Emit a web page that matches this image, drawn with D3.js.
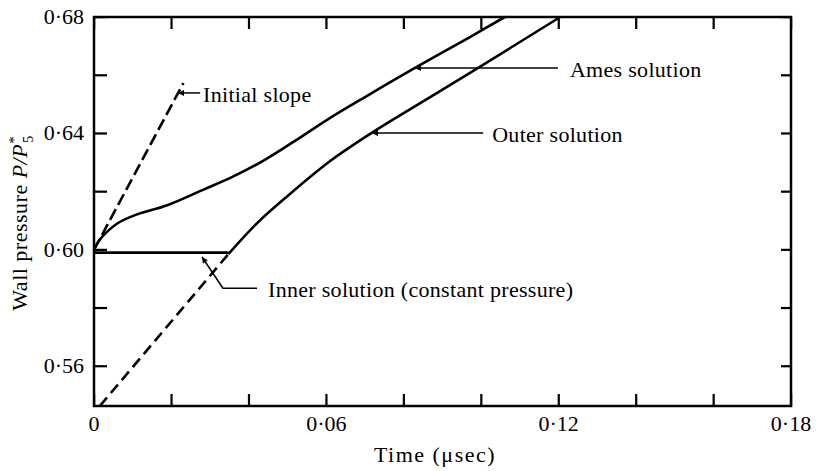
<!DOCTYPE html>
<html>
<head>
<meta charset="utf-8">
<script src="https://cdn.jsdelivr.net/npm/d3@7"></script>
<style>
  body { margin: 0; background: #fff; }
  text { font-family: "Liberation Serif", "DejaVu Serif", serif; fill: #000; }
</style>
</head>
<body>
<div id="chart"></div>
<script>
// Data: time in microseconds, pressure as P/P5*
var amesTime     = [0, 0.0012, 0.0030, 0.0062, 0.0106, 0.0191, 0.0280, 0.0360, 0.0440, 0.0520, 0.0600, 0.0700, 0.0829, 0.0971, 0.1061];
var amesPressure = [0.600, 0.6029, 0.6057, 0.6092, 0.6119, 0.6154, 0.6205, 0.6252, 0.6308, 0.6375, 0.6445, 0.6525, 0.6625, 0.6731, 0.680];

var outerTime     = [0.0347, 0.0420, 0.0500, 0.0610, 0.0721, 0.0850, 0.0971, 0.1204];
var outerPressure = [0.5985, 0.6090, 0.6185, 0.6305, 0.6405, 0.6510, 0.6608, 0.680];

var outerExtTime     = [0.0015, 0.0347];
var outerExtPressure = [0.5463, 0.5985];

var innerTime     = [0, 0.0347];
var innerPressure = [0.599, 0.599];

var slopeTime     = [0, 0.0231];
var slopePressure = [0.600, 0.6573];

var xTicks = [0, 0.02, 0.04, 0.06, 0.08, 0.10, 0.12, 0.14, 0.16, 0.18];
var xTickLabels = [0, 0.06, 0.12, 0.18];
var yTicks = [0.56, 0.58, 0.60, 0.62, 0.64, 0.66, 0.68];
var yTickLabels = [0.56, 0.60, 0.64, 0.68];

//Chart size
var svgWidth = 816;
var svgHeight = 471;
var margin = {top: 17, right: 25, bottom: 65, left: 94};
var width = svgWidth - margin.left - margin.right;
var height = svgHeight - margin.top - margin.bottom;

var svg = d3.select('#chart')
   .append('svg')
   .attr('width', svgWidth)
   .attr('height', svgHeight);

var chart = svg.append('g')
   .attr('transform', `translate(${margin.left}, ${margin.top})`);

var x = d3.scaleLinear().domain([0, 0.18]).range([0, width]);
var y = d3.scaleLinear().domain([0.5463, 0.68]).range([height, 0]);

var fmt = function(d) { return d3.format('.2f')(d).replace('.', '\u00b7'); };
var fmtX = function(d) { return d === 0 ? '0' : fmt(d); };

// frame
chart.append('rect')
    .attr('width', width).attr('height', height)
    .attr('fill', 'none').attr('stroke', '#000').attr('stroke-width', 2.5);

// inward ticks on all four sides
chart.selectAll('.tick-b').data(xTicks).enter().append('rect')
    .attr('x', d => x(d) - 1).attr('y', height - 12)
    .attr('width', 2.2).attr('height', 12).attr('fill', '#000');
chart.selectAll('.tick-t').data(xTicks).enter().append('rect')
    .attr('x', d => x(d) - 1).attr('y', 0)
    .attr('width', 2.2).attr('height', 12).attr('fill', '#000');
chart.selectAll('.tick-l').data(yTicks).enter().append('rect')
    .attr('x', 0).attr('y', d => y(d) - 1)
    .attr('width', 13).attr('height', 2.2).attr('fill', '#000');
chart.selectAll('.tick-r').data(yTicks).enter().append('rect')
    .attr('x', width - 10).attr('y', d => y(d) - 1)
    .attr('width', 10).attr('height', 2.2).attr('fill', '#000');

// tick labels
chart.selectAll('.xl').data(xTickLabels).enter().append('text')
    .attr('x', d => x(d)).attr('y', height + 25)
    .attr('text-anchor', 'middle').style('font-size', '22px')
    .text(fmtX);
chart.selectAll('.yl').data(yTickLabels).enter().append('text')
    .attr('x', -10).attr('y', d => y(d) + 7)
    .attr('text-anchor', 'end').style('font-size', '22px')
    .text(fmt);

// axis titles
svg.append('text')
    .attr('x', 435).attr('y', 462)
    .attr('text-anchor', 'middle').style('font-size', '22px')
    .attr('letter-spacing', '1.5px')
    .text('Time (\u03bcsec)');

var yTitle = svg.append('text')
    .attr('transform', 'translate(27, 223) rotate(-90)')
    .attr('text-anchor', 'middle').style('font-size', '22px')
    .attr('letter-spacing', '0.5px');
yTitle.append('tspan').text('Wall pressure ');
yTitle.append('tspan').style('font-style', 'italic').text('P/P');
yTitle.append('tspan').attr('dy', -8).style('font-size', '15px').text('*');
yTitle.append('tspan').attr('dx', -7).attr('dy', 14).style('font-size', '14px').text('5');

// curves
function zipPts(t, p) { return t.map((d, i) => [d, p[i]]); }
var line = d3.line().x(d => x(d[0])).y(d => y(d[1]));
var smooth = d3.line().x(d => x(d[0])).y(d => y(d[1])).curve(d3.curveCatmullRom.alpha(0.5));

chart.append('path').attr('d', smooth(zipPts(amesTime, amesPressure)))
    .attr('fill', 'none').attr('stroke', '#000').attr('stroke-width', 2.6);
chart.append('path').attr('d', smooth(zipPts(outerTime, outerPressure)))
    .attr('fill', 'none').attr('stroke', '#000').attr('stroke-width', 2.6);
chart.append('path').attr('d', line(zipPts(outerExtTime, outerExtPressure)))
    .attr('fill', 'none').attr('stroke', '#000').attr('stroke-width', 2.6)
    .attr('stroke-dasharray', '11,6');
chart.append('path').attr('d', line(zipPts(innerTime, innerPressure)))
    .attr('fill', 'none').attr('stroke', '#000').attr('stroke-width', 2.6);
chart.append('path').attr('d', line(zipPts(slopeTime, slopePressure)))
    .attr('fill', 'none').attr('stroke', '#000').attr('stroke-width', 2.6)
    .attr('stroke-dasharray', '12,5');

// annotations (leader lines ending in arrowheads)
svg.append('defs').append('marker')
    .attr('id', 'arrow').attr('viewBox', '0 0 10 10')
    .attr('refX', 10).attr('refY', 5)
    .attr('markerWidth', 9).attr('markerHeight', 6)
    .attr('markerUnits', 'userSpaceOnUse')
    .attr('orient', 'auto')
    .append('path').attr('d', 'M0,0 L10,5 L0,10 Z').attr('fill', '#000');

var notes = [
    {label: 'Initial slope', pts: [[0.0274, 0.6539], [0.0217, 0.6539]], dx: 3, dy: 9},
    {label: 'Ames solution', pts: [[0.1198, 0.6625], [0.0829, 0.6625]], dx: 12, dy: 9},
    {label: 'Outer solution', pts: [[0.1005, 0.6401], [0.0718, 0.6401]], dx: 9, dy: 9},
    {label: 'Inner solution (constant pressure)', pts: [[0.0421, 0.5868], [0.0333, 0.5868], [0.0279, 0.5975]], dx: 11, dy: 9}
];
notes.forEach(function(n) {
    chart.append('path').attr('d', line(n.pts))
        .attr('fill', 'none').attr('stroke', '#000').attr('stroke-width', 1.5)
        .attr('marker-end', 'url(#arrow)');
    chart.append('text')
        .attr('x', x(n.pts[0][0]) + n.dx).attr('y', y(n.pts[0][1]) + n.dy)
        .style('font-size', '22px')
        .attr('letter-spacing', '0.3px')
        .text(n.label);
});
</script>
</body>
</html>
